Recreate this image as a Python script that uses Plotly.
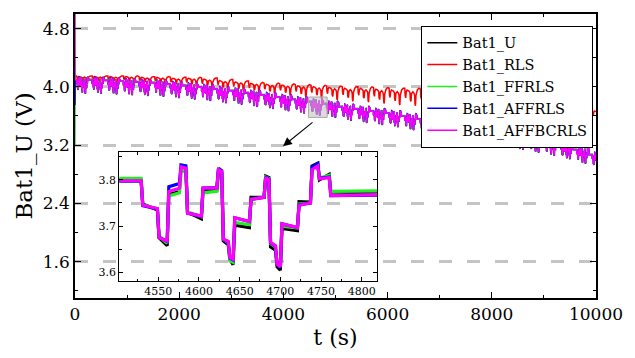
import plotly.graph_objects as go

# ---------------- data ----------------
# Inset (zoomed) window, seconds
inset_t = [4502, 4529, 4531, 4549, 4551, 4561, 4563, 4576, 4578, 4584,
           4586, 4603, 4605, 4622, 4624, 4628, 4630, 4636, 4638, 4642,
           4644, 4662, 4664, 4680, 4682, 4686, 4688, 4694, 4696, 4700,
           4702, 4721, 4723, 4737, 4739, 4746, 4748, 4760, 4762, 4819]
inset_u = [3.800, 3.800, 3.748, 3.735, 3.675, 3.658, 3.768, 3.775, 3.822, 3.818,
           3.730, 3.716, 3.778, 3.778, 3.818, 3.815, 3.668, 3.660, 3.628, 3.617,
           3.702, 3.697, 3.762, 3.762, 3.808, 3.805, 3.655, 3.648, 3.612, 3.605,
           3.695, 3.690, 3.753, 3.752, 3.830, 3.836, 3.800, 3.812, 3.774, 3.772]
inset_ffrls = [3.803, 3.803, 3.746, 3.737, 3.677, 3.663, 3.765, 3.772, 3.822, 3.820,
               3.731, 3.720, 3.772, 3.775, 3.820, 3.817, 3.672, 3.664, 3.625, 3.622,
               3.708, 3.703, 3.758, 3.762, 3.806, 3.803, 3.662, 3.655, 3.620, 3.615,
               3.700, 3.696, 3.748, 3.750, 3.826, 3.833, 3.804, 3.810, 3.775, 3.776]
inset_affrls = [3.797, 3.797, 3.744, 3.737, 3.676, 3.667, 3.785, 3.792, 3.832, 3.830,
                3.728, 3.721, 3.782, 3.783, 3.825, 3.820, 3.671, 3.666, 3.631, 3.627,
                3.718, 3.710, 3.758, 3.762, 3.806, 3.801, 3.664, 3.657, 3.617, 3.611,
                3.705, 3.697, 3.746, 3.750, 3.828, 3.835, 3.803, 3.806, 3.766, 3.767]
inset_affbcrls = [3.798, 3.798, 3.745, 3.738, 3.675, 3.668, 3.775, 3.782, 3.828, 3.825,
                  3.728, 3.722, 3.782, 3.782, 3.822, 3.818, 3.672, 3.667, 3.632, 3.628,
                  3.718, 3.710, 3.758, 3.762, 3.805, 3.800, 3.665, 3.658, 3.618, 3.612,
                  3.705, 3.697, 3.745, 3.750, 3.822, 3.830, 3.802, 3.805, 3.766, 3.768]

# Start times of each pulse cycle in the full test (s)
cycle_start = [30, 330, 630, 930, 1230, 1530, 1830, 2130, 2430, 2730,
               3030, 3330, 3630, 3930, 4230, 4530, 4830, 5130, 5430, 5730,
               6030, 6330, 6630, 6930, 7230, 7530, 7830, 8130, 8430, 8730,
               9030, 9330, 9630, 9930]
# Rest voltage before each cycle (V), last entry = rest after final cycle
rest_level = [4.10, 4.10, 4.09, 4.08, 4.07, 4.06, 4.04, 4.02, 4.00, 3.97,
              3.95, 3.92, 3.89, 3.86, 3.83, 3.80, 3.77, 3.73, 3.70, 3.67,
              3.64, 3.60, 3.56, 3.53, 3.49, 3.45, 3.41, 3.37, 3.33, 3.29,
              3.25, 3.20, 3.14, 3.07, 3.00]
# RLS estimate: upper / lower level per cycle and its shape inside a cycle
rls_top = [4.15, 4.15, 4.15, 4.15, 4.14, 4.14, 4.13, 4.13, 4.12, 4.10,
           4.08, 4.06, 4.05, 4.04, 4.03, 4.02, 4.01, 4.00, 4.00, 3.99,
           3.98, 3.98, 3.97, 3.96, 3.95, 3.94, 3.93, 3.91, 3.90, 3.88,
           3.86, 3.83, 3.76, 3.68]
rls_bottom = [4.06, 4.06, 4.05, 4.05, 4.04, 4.03, 4.01, 4.00, 3.98, 3.96,
              3.94, 3.92, 3.90, 3.88, 3.86, 3.84, 3.82, 3.80, 3.79, 3.77,
              3.75, 3.74, 3.72, 3.71, 3.70, 3.68, 3.67, 3.65, 3.63, 3.60,
              3.56, 3.50, 3.37, 3.55]
rls_rel_t = [0, 6, 18, 28, 45, 75, 100, 106, 118, 130, 155, 180, 190, 196, 205, 215, 240, 270, 299]
rls_shape = [1.0, 0.6, 0.45, 0.8, 0.9, 0.85, 0.75, 0.35, 0.25, 0.7, 0.8, 0.7, 0.55, 0.1, 0.0, 0.6, 0.9, 1.0, 1.0]

# first sample of each estimate at t = 0 (initialisation)
start_value = {"Bat1_U": 4.10, "Bat1_RLS": 4.10, "Bat1_FFRLS": 3.20,
               "Bat1_AFFRLS": 3.75, "Bat1_AFFBCRLS": 5.2}

names = ["Bat1_U", "Bat1_RLS", "Bat1_FFRLS", "Bat1_AFFRLS", "Bat1_AFFBCRLS"]
colors = ["#000000", "#ff0000", "#22ee22", "#0000ff", "#ff00ff"]
inset_data = {"Bat1_U": inset_u, "Bat1_FFRLS": inset_ffrls,
              "Bat1_AFFRLS": inset_affrls, "Bat1_AFFBCRLS": inset_affbcrls}

REF_START = inset_u[0]      # rest level at cycle start in inset
REF_END = 3.77              # rest level after cycle in inset
T_REF = 4530                # cycle start inside inset


def build_pulse_series(name, prof):
    ts = [0.0, 3.0]
    vs = [start_value[name], rest_level[0] + prof[0] - REF_START]
    for k, t0 in enumerate(cycle_start):
        for i in range(1, 38):
            ts.append(t0 + inset_t[i] - T_REF)
            vs.append(rest_level[k] + prof[i] - REF_START)
        ts.append(t0 + inset_t[38] - T_REF)
        vs.append(rest_level[k + 1] + prof[38] - REF_END)
        ts.append(t0 + 299)
        vs.append(rest_level[k + 1] + prof[39] - REF_END)
    return ts, vs


def build_rls_series():
    ts = [0.0, 3.0]
    vs = [start_value["Bat1_RLS"], rls_top[0]]
    for k, t0 in enumerate(cycle_start):
        for rt, f in zip(rls_rel_t, rls_shape):
            ts.append(t0 + rt)
            vs.append(rls_bottom[k] + f * (rls_top[k] - rls_bottom[k]))
    return ts, vs


fig = go.Figure()

FONT = "DejaVu Serif"

for name, col in zip(names, colors):
    if name == "Bat1_RLS":
        x, y = build_rls_series()
    else:
        x, y = build_pulse_series(name, inset_data[name])
    fig.add_trace(go.Scatter(x=x, y=y, mode="lines", name=name,
                             line=dict(color=col, width=1.5),
                             xaxis="x", yaxis="y"))

for name, col in zip(names, colors):
    if name == "Bat1_RLS":
        continue
    fig.add_trace(go.Scatter(x=inset_t, y=inset_data[name], mode="lines",
                             line=dict(color=col, width=3.2), showlegend=False,
                             xaxis="x2", yaxis="y2"))

L, R, T, B = 75, 29, 12, 58
W, H = 635, 358
pw, ph = W - L - R, H - T - B


def px(xp):
    return (xp - L) / pw


def py(yp):
    return (H - B - yp) / ph


fig.update_layout(
    width=W, height=H,
    margin=dict(l=L, r=R, t=T, b=B),
    paper_bgcolor="white", plot_bgcolor="rgba(0,0,0,0)",
    font=dict(family=FONT, color="black"),
    xaxis=dict(range=[0, 10000], dtick=2000, tick0=0, tickformat="d",
               showline=True, linecolor="black", linewidth=1.5, mirror="allticks",
               ticks="inside", ticklen=6, tickwidth=1.3, tickcolor="black",
               minor=dict(dtick=1000, ticks="inside", ticklen=3.5, tickwidth=1.2, tickcolor="black"),
               showgrid=False, zeroline=False,
               tickfont=dict(size=17, family=FONT),
               title=dict(text="t (s)", font=dict(size=22, family=FONT), standoff=6)),
    yaxis=dict(range=[1.1, 5.0], dtick=0.8, tick0=0, tickformat=".1f",
               showline=True, linecolor="black", linewidth=1.5, mirror="allticks",
               ticks="inside", ticklen=6, tickwidth=1.3, tickcolor="black",
               minor=dict(dtick=0.4, ticks="inside", ticklen=3.5, tickwidth=1.2, tickcolor="black"),
               showgrid=True, gridcolor="#c4c4c4", gridwidth=2.5, griddash="13px,15px",
               zeroline=False,
               tickfont=dict(size=17, family=FONT),
               title=dict(text="Bat1_U (V)", font=dict(size=23, family=FONT), standoff=4)),
    xaxis2=dict(domain=[px(120), px(383)], anchor="y2", range=[4502, 4819],
                dtick=50, tick0=4500, tickformat="d",
                showline=True, linecolor="black", linewidth=1, mirror="allticks",
                ticks="inside", ticklen=4, tickcolor="black",
                minor=dict(dtick=25, ticks="inside", ticklen=2.5, tickcolor="black"),
                showgrid=False, zeroline=False,
                tickfont=dict(size=11, family=FONT)),
    yaxis2=dict(domain=[py(283), py(152)], anchor="x2", range=[3.581, 3.86],
                dtick=0.1, tick0=3.6, tickformat=".1f",
                showline=True, linecolor="black", linewidth=1, mirror="allticks",
                ticks="inside", ticklen=4, tickcolor="black",
                minor=dict(dtick=0.05, ticks="inside", ticklen=2.5, tickcolor="black"),
                showgrid=False, zeroline=False,
                tickfont=dict(size=11, family=FONT)),
    legend=dict(x=px(428), y=py(24), xanchor="left", yanchor="top",
                bgcolor="white", bordercolor="black", borderwidth=1,
                font=dict(size=14.5, family=FONT), tracegroupgap=0,
                itemwidth=30),
    showlegend=True,
)

# zoom-region marker and arrow
fig.add_shape(type="rect", xref="x", yref="y", x0=4480, x1=4840, y0=3.58, y1=3.86,
              fillcolor="rgba(190,190,190,0.55)", line=dict(color="#a8a8a8", width=1),
              layer="above")
fig.add_annotation(x=px(287), y=py(146), xref="paper", yref="paper",
                   ax=31, ay=-25, showarrow=True, arrowhead=2, arrowsize=1.6,
                   arrowwidth=1.1, arrowcolor="black", text="")

fig.write_html("out.html")
